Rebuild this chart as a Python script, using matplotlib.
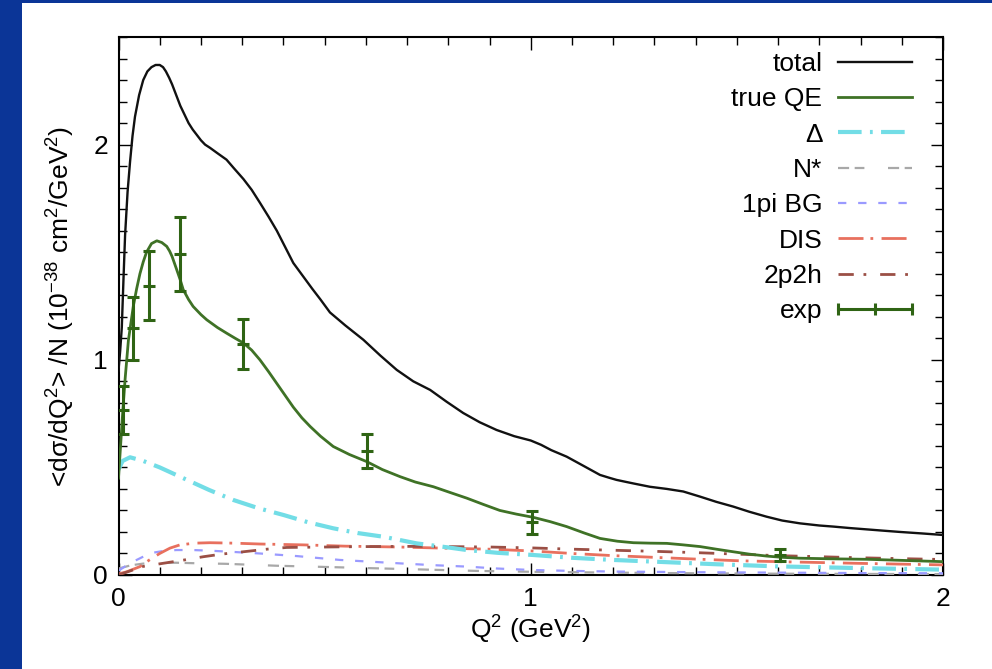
import matplotlib
matplotlib.use("Agg")
import matplotlib.pyplot as plt
from matplotlib.lines import Line2D
from matplotlib.legend_handler import HandlerLine2D
from matplotlib.patches import Rectangle
from matplotlib.ticker import MultipleLocator

plt.rcParams['font.family'] = ['Liberation Sans', 'DejaVu Sans']
plt.rcParams['mathtext.fontset'] = 'custom'
plt.rcParams['mathtext.rm'] = 'Liberation Sans'
plt.rcParams['mathtext.it'] = 'Liberation Sans:italic'
plt.rcParams['lines.scale_dashes'] = False

# ---------------- data ----------------
total_x = [0.0, 0.004, 0.008, 0.012, 0.016, 0.022, 0.028, 0.034, 0.04, 0.05, 0.06, 0.07,
           0.08, 0.09, 0.1, 0.108, 0.115, 0.123, 0.13, 0.141, 0.15, 0.16, 0.17, 0.18,
           0.19, 0.2, 0.21, 0.222, 0.24, 0.262, 0.28, 0.303, 0.323, 0.343, 0.364, 0.384,
           0.404, 0.424, 0.447, 0.47, 0.49, 0.513, 0.55, 0.594, 0.635, 0.675, 0.715,
           0.756, 0.796, 0.836, 0.876, 0.917, 0.96, 1.0, 1.025, 1.05, 1.087, 1.13, 1.168,
           1.19, 1.208, 1.23, 1.25, 1.289, 1.33, 1.37, 1.411, 1.45, 1.491, 1.53, 1.572,
           1.61, 1.653, 1.7, 1.734, 1.775, 1.815, 1.855, 1.896, 1.95, 2.0]
total_y = [0.95, 1.04, 1.15, 1.37, 1.58, 1.78, 1.92, 2.04, 2.13, 2.23, 2.30, 2.34,
           2.36, 2.37, 2.37, 2.36, 2.34, 2.31, 2.28, 2.225, 2.18, 2.14, 2.10, 2.07,
           2.045, 2.02, 2.00, 1.985, 1.96, 1.93, 1.89, 1.84, 1.79, 1.73, 1.665, 1.60,
           1.525, 1.45, 1.39, 1.33, 1.28, 1.22, 1.16, 1.093, 1.02, 0.953, 0.90,
           0.86, 0.805, 0.753, 0.71, 0.674, 0.645, 0.625, 0.605, 0.58, 0.55, 0.505, 0.465,
           0.452, 0.442, 0.433, 0.425, 0.41, 0.40, 0.388, 0.364, 0.34, 0.318, 0.294, 0.271,
           0.253, 0.24, 0.23, 0.225, 0.218, 0.212, 0.206, 0.20, 0.193, 0.186]

qe_x = [0.0, 0.005, 0.01, 0.016, 0.024, 0.036, 0.044, 0.052, 0.06, 0.068, 0.08, 0.093,
        0.105, 0.117, 0.124, 0.13, 0.141, 0.15, 0.157, 0.17, 0.181, 0.2, 0.214, 0.24,
        0.262, 0.283, 0.303, 0.323, 0.343, 0.364, 0.384, 0.404, 0.424, 0.445, 0.465,
        0.49, 0.521, 0.56, 0.602, 0.64, 0.683, 0.72, 0.764, 0.805, 0.845, 0.885, 0.925,
        0.965, 1.006, 1.047, 1.087, 1.13, 1.168, 1.21, 1.249, 1.29, 1.33, 1.37, 1.411,
        1.45, 1.491, 1.53, 1.572, 1.61, 1.653, 1.735, 1.815, 1.9, 2.0]
qe_y = [0.45, 0.6, 0.75, 0.91, 1.09, 1.25, 1.33, 1.40, 1.455, 1.50, 1.54, 1.553,
        1.545, 1.527, 1.505, 1.48, 1.42, 1.37, 1.326, 1.28, 1.248, 1.21, 1.186, 1.15,
        1.124, 1.10, 1.078, 1.045, 1.0, 0.945, 0.89, 0.835, 0.78, 0.73, 0.69,
        0.645, 0.597, 0.56, 0.527, 0.49, 0.457, 0.432, 0.41, 0.383, 0.357, 0.328, 0.30,
        0.283, 0.268, 0.248, 0.225, 0.195, 0.17, 0.157, 0.15, 0.148, 0.147, 0.14, 0.132,
        0.12, 0.108, 0.097, 0.088, 0.082, 0.078, 0.075, 0.073, 0.068, 0.062]

delta_x = [0.0, 0.01, 0.028, 0.06, 0.1, 0.157, 0.22, 0.278, 0.34, 0.40, 0.46, 0.521,
           0.58, 0.642, 0.723, 0.8, 0.845, 0.92, 1.006, 1.1, 1.2, 1.3, 1.45, 1.6, 1.8, 2.0]
delta_y = [0.49, 0.53, 0.547, 0.53, 0.50, 0.45, 0.395, 0.349, 0.31, 0.279, 0.245, 0.217,
           0.195, 0.178, 0.147, 0.128, 0.116, 0.103, 0.093, 0.08, 0.07, 0.062, 0.05, 0.04,
           0.032, 0.025]

nstar_x = [0.0, 0.03, 0.06, 0.1, 0.14, 0.18, 0.26, 0.384, 0.489, 0.626, 0.788, 0.869,
           1.0, 1.2, 1.4, 1.6, 1.8, 2.0]
nstar_y = [0.03, 0.045, 0.053, 0.057, 0.057, 0.055, 0.052, 0.043, 0.038, 0.031, 0.023,
           0.019, 0.015, 0.011, 0.008, 0.006, 0.005, 0.004]

pibg_x = [0.0, 0.02, 0.044, 0.065, 0.085, 0.11, 0.141, 0.18, 0.222, 0.28, 0.343, 0.432,
          0.537, 0.61, 0.683, 0.76, 0.845, 0.92, 1.006, 1.1, 1.2, 1.4, 1.6, 1.8, 2.0]
pibg_y = [0.02, 0.045, 0.07, 0.09, 0.104, 0.112, 0.116, 0.116, 0.113, 0.107, 0.10, 0.088,
          0.07, 0.062, 0.054, 0.046, 0.039, 0.03, 0.023, 0.019, 0.016, 0.013, 0.011, 0.009,
          0.008]

dis_x = [0.0, 0.02, 0.052, 0.075, 0.1, 0.125, 0.149, 0.185, 0.222, 0.28, 0.343, 0.448,
         0.55, 0.68, 0.804, 0.9, 1.0, 1.1, 1.2, 1.3, 1.4, 1.507, 1.6, 1.8, 2.0]
dis_y = [0.005, 0.015, 0.039, 0.07, 0.1, 0.125, 0.14, 0.148, 0.15, 0.148, 0.144, 0.14,
         0.134, 0.13, 0.124, 0.12, 0.112, 0.10, 0.09, 0.082, 0.074, 0.066, 0.062, 0.054,
         0.047]

tp2h_x = [0.0, 0.03, 0.06, 0.117, 0.16, 0.206, 0.25, 0.303, 0.36, 0.408, 0.5, 0.6, 0.7,
          0.8, 0.9, 1.0, 1.1, 1.2, 1.3, 1.4, 1.5, 1.6, 1.7, 1.8, 1.9, 2.0]
tp2h_y = [0.0, 0.02, 0.04, 0.057, 0.07, 0.085, 0.097, 0.108, 0.12, 0.128, 0.13, 0.132,
          0.133, 0.132, 0.13, 0.126, 0.12, 0.115, 0.11, 0.104, 0.097, 0.09, 0.085, 0.08,
          0.076, 0.072]

exp_x = [0.012, 0.036, 0.075, 0.149, 0.301, 0.602, 1.002, 1.605]
exp_y = [0.767, 1.147, 1.344, 1.493, 1.074, 0.577, 0.245, 0.093]
exp_err = [0.11, 0.147, 0.16, 0.172, 0.116, 0.078, 0.054, 0.027]

labels = ["total", "true QE", "Δ", "N*", "1pi BG", "DIS", "2p2h", "exp"]
xticks = [0, 1, 2]
yticks = [0, 1, 2]

# ---------------- figure ----------------
W, H = 992, 669
fig = plt.figure(figsize=(W / 100, H / 100), dpi=100, facecolor='white')
blue = '#0b3597'
fig.patches.append(Rectangle((0, 0), 22 / W, 1, transform=fig.transFigure,
                             facecolor=blue, edgecolor='none', zorder=0))
fig.patches.append(Rectangle((0, 1 - 3 / H), 1, 3 / H, transform=fig.transFigure,
                             facecolor=blue, edgecolor='none', zorder=0))

ax = fig.add_axes([118.5 / W, (H - 575) / H, (943 - 118.5) / W, (575 - 37) / H])

c_total = '#111111'
c_qe = '#3f7226'
c_delta = '#72dde6'
c_nstar = '#a8a8a8'
c_pibg = '#9a9aff'
c_dis = '#e8705e'
c_2p2h = '#9b4f45'
c_exp = '#2f6414'

l_total, = ax.plot(total_x, total_y, color=c_total, lw=1.7, zorder=5)
l_qe, = ax.plot(qe_x, qe_y, color=c_qe, lw=2.0, zorder=5)
l_delta, = ax.plot(delta_x, delta_y, color=c_delta, lw=3.0, dashes=(17, 6, 2, 6), zorder=4)
l_nstar, = ax.plot(nstar_x, nstar_y, color=c_nstar, lw=1.6, dashes=(8, 4, 7, 17), zorder=3)
l_pibg, = ax.plot(pibg_x, pibg_y, color=c_pibg, lw=1.6, dashes=(6, 8.5), zorder=3)
l_dis, = ax.plot(dis_x, dis_y, color=c_dis, lw=2.0, dashes=(18, 5, 2, 6), zorder=3)
l_2p2h, = ax.plot(tp2h_x, tp2h_y, color=c_2p2h, lw=2.0, dashes=(11, 7, 2, 10), zorder=3)

ax.errorbar(exp_x, exp_y, yerr=exp_err, fmt='_', color=c_exp, ms=8, mew=2.2,
            elinewidth=2.2, capsize=4.5, capthick=2.2, zorder=6)

h_exp = Line2D([0], [0], color=c_exp, lw=2.2, marker='|', ms=9, mew=2.2)

ax.set_xlim(0, 2)
ax.set_ylim(0, 2.5)
ax.set_xticks(xticks)
ax.set_yticks(yticks)
ax.xaxis.set_minor_locator(MultipleLocator(0.1))
ax.yaxis.set_minor_locator(MultipleLocator(0.1))
ax.tick_params(which='both', direction='in', top=True, right=True, width=1.0, color='black')
ax.tick_params(which='major', length=9, labelsize=19)
ax.tick_params(which='minor', length=5.5)
ax.tick_params(axis='x', which='major', pad=9)
ax.tick_params(axis='y', which='major', pad=7.5)
for s in ax.spines.values():
    s.set_linewidth(1.5)

ax.set_xlabel(r"Q$^2$ (GeV$^2$)", fontsize=19)
ax.xaxis.set_label_coords(0.5, -0.072)
ax.xaxis.label.set_va('top')

fig.text(61 / W, (H - 306) / H,
         r"<dσ/dQ$^2$> /N (10$^{-38}$ cm$^2$/GeV$^2$)",
         rotation=90, ha='center', va='center', fontsize=19)

handles = [l_total, l_qe, l_delta, l_nstar, l_pibg, l_dis, l_2p2h, h_exp]
leg = ax.legend(handles, labels, loc='upper right', frameon=False, markerfirst=False,
                fontsize=19, handlelength=2.8, handletextpad=0.6, labelspacing=0.43,
                borderpad=0, borderaxespad=0, bbox_to_anchor=(0.9624, 0.9724),
                handler_map={h_exp: HandlerLine2D(numpoints=3, marker_pad=0)})

fig.savefig("out.png", dpi=100, facecolor=fig.get_facecolor())
